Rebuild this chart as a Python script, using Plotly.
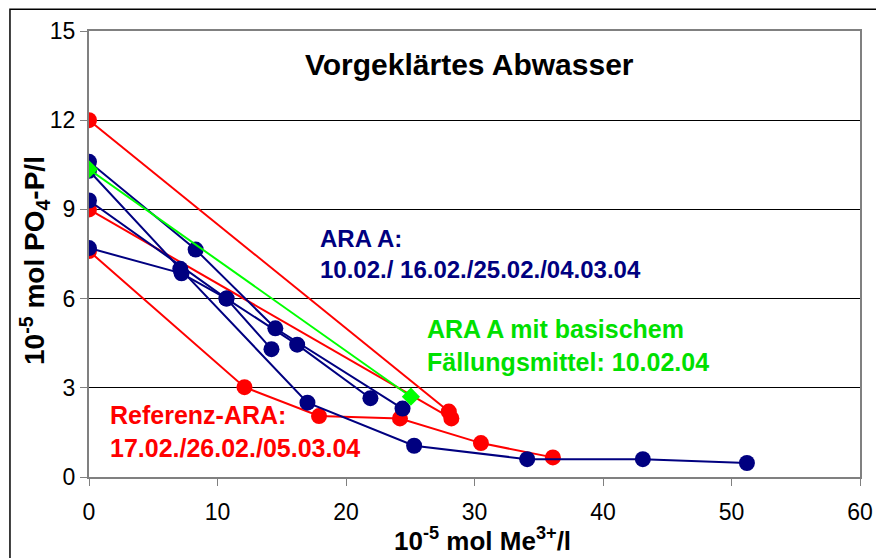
import plotly.graph_objects as go

# ARA A (4 series, navy)
ara_a1_x = [0, 8.3, 14.5, 24.4]
ara_a1_y = [10.6, 7.65, 5.0, 2.3]
ara_a2_x = [0, 7.1, 17.0, 25.3, 34.1, 43.1, 51.2]
ara_a2_y = [10.3, 7.0, 2.5, 1.05, 0.6, 0.6, 0.47]
ara_a3_x = [0, 10.7, 16.2, 21.9]
ara_a3_y = [9.3, 6.0, 4.45, 2.65]
ara_a4_x = [0, 7.2, 10.7, 14.2]
ara_a4_y = [7.7, 6.85, 6.0, 4.3]

# ARA A mit basischem Fällungsmittel (green)
ara_b_x = [0, 25.05]
ara_b_y = [10.35, 2.7]

# Referenz-ARA (3 series, red)
ref1_x = [0, 28.0]
ref1_y = [12.0, 2.2]
ref2_x = [0, 28.2]
ref2_y = [9.0, 1.97]
ref3_x = [0, 12.1, 17.9, 24.2, 30.5, 36.1]
ref3_y = [7.6, 3.02, 2.05, 1.97, 1.14, 0.66]

x_ticks = [0, 10, 20, 30, 40, 50, 60]
y_ticks = [0, 3, 6, 9, 12, 15]

NAVY = "#000080"
RED = "#FF0000"
GREEN = "#00FF00"
FONT = "Arial, Liberation Sans, sans-serif"

fig = go.Figure()

for xs, ys in [(ref1_x, ref1_y), (ref2_x, ref2_y), (ref3_x, ref3_y)]:
    fig.add_trace(go.Scatter(x=xs, y=ys, mode="lines+markers",
                             line=dict(color=RED, width=2),
                             marker=dict(color=RED, size=16, symbol="circle"),
                             showlegend=False))

for xs, ys in [(ara_a1_x, ara_a1_y), (ara_a2_x, ara_a2_y),
               (ara_a3_x, ara_a3_y), (ara_a4_x, ara_a4_y)]:
    fig.add_trace(go.Scatter(x=xs, y=ys, mode="lines+markers",
                             line=dict(color=NAVY, width=2),
                             marker=dict(color=NAVY, size=16, symbol="circle"),
                             showlegend=False))

fig.add_trace(go.Scatter(x=ara_b_x, y=ara_b_y, mode="lines+markers",
                         line=dict(color=GREEN, width=2),
                         marker=dict(color=GREEN, size=14, symbol="diamond"),
                         showlegend=False))

fig.update_layout(
    width=876, height=558,
    margin=dict(l=89, r=16, t=31, b=81),
    paper_bgcolor="white", plot_bgcolor="white",
    font=dict(family=FONT, color="black", size=22),
    showlegend=False,
    xaxis=dict(range=[0, 60], tickvals=x_ticks, ticks="outside", ticklen=7,
               tickcolor="#808080", showgrid=False, zeroline=False,
               showline=True, linecolor="#808080", linewidth=2, mirror=True,
               automargin=False, ticklabeloverflow="allow", ticklabelstandoff=6,
               tickfont=dict(size=23, family=FONT)),
    yaxis=dict(range=[0, 15], tickvals=y_ticks, ticks="outside", ticklen=7,
               tickcolor="#808080", showgrid=True, gridcolor="black", gridwidth=1,
               zeroline=False, showline=True, linecolor="#808080", linewidth=2,
               mirror=True, automargin=False, ticklabeloverflow="allow",
               tickfont=dict(size=23, family=FONT)),
    annotations=[
        dict(x=0.51, y=-0.14, xref="paper", yref="paper", showarrow=False,
             xanchor="center", yanchor="middle",
             text="<b>10<sup>-5</sup> mol Me<sup>3+</sup>/l</b>",
             font=dict(size=26, family=FONT)),
        dict(x=-0.071, y=0.485, xref="paper", yref="paper", showarrow=False,
             xanchor="center", yanchor="middle", textangle=-90,
             text="<b>10<sup>-5</sup> mol PO<sub>4</sub>-P/l</b>",
             font=dict(size=28, family=FONT)),
        dict(x=0.494, y=0.924, xref="paper", yref="paper", showarrow=False,
             yanchor="middle",
             text="<b>Vorgeklärtes Abwasser</b>", font=dict(size=30, family=FONT)),
        dict(x=0.297, y=0.501, xref="paper", yref="paper", showarrow=False,
             xanchor="left", yanchor="middle", align="left",
             text="<b>ARA A:<br>10.02./ 16.02./25.02./04.03.04</b>",
             font=dict(size=24, color=NAVY, family=FONT)),
        dict(x=0.436, y=0.294, xref="paper", yref="paper", showarrow=False,
             xanchor="left", yanchor="middle", align="left",
             text="<b>ARA A mit basischem<br>Fällungsmittel: 10.02.04</b>",
             font=dict(size=25, color="#00E000", family=FONT)),
        dict(x=0.0246, y=0.103, xref="paper", yref="paper", showarrow=False,
             xanchor="left", yanchor="middle", align="left",
             text="<b>Referenz-ARA:<br>17.02./26.02./05.03.04</b>",
             font=dict(size=25, color=RED, family=FONT)),
    ],
    shapes=[
        dict(type="rect", xref="paper", yref="paper",
             x0=-0.1025, x1=1.2, y0=-0.4, y1=1.049,
             line=dict(color="black", width=1.5), fillcolor="rgba(0,0,0,0)",
             layer="below"),
    ],
)

fig.write_html("out.html")
